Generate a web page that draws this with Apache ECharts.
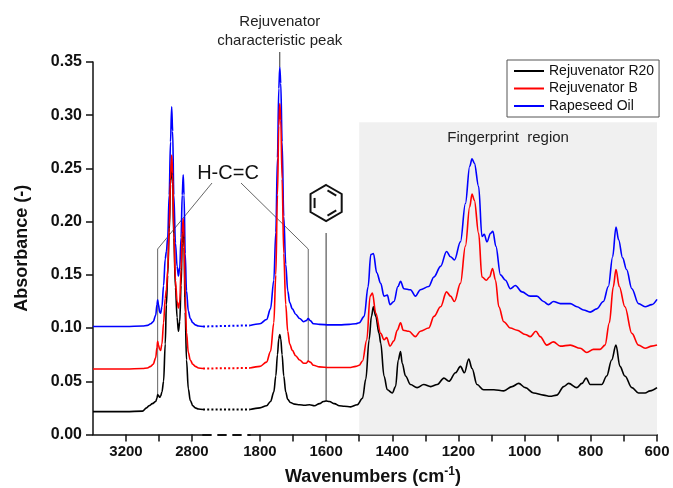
<!DOCTYPE html>
<html>
<head>
<meta charset="utf-8">
<script src="https://cdn.jsdelivr.net/npm/echarts@6/dist/echarts.min.js"></script>
<style>
    html, body { margin: 0; padding: 0; background: #fff; }
    #main { width: 673px; height: 488px; }
</style>
</head>
<body>
<div id="main"></div>
<script>
var FONT = "'Liberation Sans', Arial, sans-serif";
var seriesNames = ['Rejuvenator R20', 'Rejuvenator B', 'Rapeseed Oil'];
var colors = { r20: '#000000', rb: '#ff0000', oil: '#0000ff' };

// left part of the broken axis: 3400 .. 2733 cm-1
var oilLeft = [[3400,0.1015],[3200,0.1015],[3100,0.102],[3070,0.1025],[3050,0.104],[3035,0.106],[3020,0.112],[3012,0.122],[3008,0.1265],[3003,0.122],[2996,0.115],[2990,0.114],[2982,0.12],[2972,0.14],[2962,0.165],[2955,0.172],[2947,0.185],[2938,0.225],[2930,0.275],[2923,0.308],[2917,0.285],[2910,0.225],[2900,0.18],[2890,0.158],[2882,0.149],[2874,0.157],[2866,0.185],[2859,0.225],[2853,0.244],[2848,0.225],[2841,0.17],[2833,0.135],[2822,0.116],[2810,0.109],[2795,0.105],[2780,0.103],[2760,0.102],[2733,0.1015]];
var rbLeft = [[3400,0.0615],[3200,0.0615],[3100,0.062],[3070,0.0625],[3050,0.064],[3035,0.066],[3020,0.072],[3012,0.082],[3008,0.0875],[3003,0.084],[2996,0.08],[2990,0.079],[2982,0.085],[2972,0.105],[2962,0.128],[2955,0.136],[2947,0.155],[2938,0.195],[2930,0.24],[2923,0.2625],[2917,0.245],[2910,0.19],[2900,0.145],[2890,0.125],[2882,0.119],[2874,0.125],[2866,0.155],[2859,0.19],[2853,0.203],[2848,0.185],[2841,0.13],[2833,0.096],[2822,0.077],[2810,0.07],[2795,0.066],[2780,0.064],[2760,0.0625],[2733,0.062]];
var r20Left = [[3400,0.0215],[3200,0.0215],[3100,0.022],[3075,0.025],[3060,0.027],[3040,0.029],[3020,0.031],[3012,0.034],[3008,0.0375],[3003,0.0365],[2996,0.035],[2990,0.036],[2982,0.04],[2972,0.05],[2962,0.085],[2955,0.122],[2947,0.15],[2938,0.19],[2930,0.235],[2923,0.256],[2917,0.238],[2910,0.185],[2900,0.138],[2890,0.11],[2882,0.097],[2874,0.106],[2866,0.14],[2859,0.18],[2853,0.195],[2848,0.176],[2841,0.115],[2833,0.07],[2822,0.043],[2810,0.032],[2795,0.027],[2780,0.025],[2760,0.024],[2733,0.0235]];

// right part: 1830 .. 600 cm-1
var oilRight = [[1830,0.1025],[1800,0.104],[1780,0.108],[1768,0.118],[1758,0.145],[1752,0.19],[1747,0.26],[1743,0.325],[1740,0.345],[1737,0.33],[1733,0.275],[1728,0.205],[1722,0.16],[1716,0.135],[1710,0.124],[1702,0.118],[1692,0.113],[1680,0.109],[1668,0.106],[1660,0.107],[1654,0.109],[1648,0.107],[1638,0.104],[1620,0.1035],[1590,0.103],[1560,0.103],[1530,0.1035],[1510,0.104],[1500,0.105],[1485,0.111],[1473,0.139],[1465,0.169],[1457,0.170],[1447,0.152],[1435,0.142],[1425,0.130],[1415,0.131],[1407,0.122],[1395,0.125],[1383,0.139],[1375,0.144],[1365,0.137],[1345,0.136],[1330,0.130],[1315,0.136],[1290,0.139],[1274,0.148],[1254,0.158],[1236,0.172],[1224,0.167],[1212,0.164],[1194,0.181],[1179,0.217],[1166,0.252],[1159,0.259],[1152,0.255],[1139,0.233],[1129,0.186],[1122,0.188],[1114,0.181],[1103,0.189],[1096,0.191],[1087,0.177],[1073,0.150],[1058,0.145],[1043,0.137],[1028,0.140],[1008,0.134],[983,0.130],[963,0.130],[943,0.125],[928,0.122],[913,0.125],[892,0.123],[862,0.123],[842,0.120],[822,0.117],[802,0.115],[782,0.118],[762,0.125],[747,0.139],[734,0.167],[724,0.195],[716,0.183],[704,0.166],[692,0.155],[676,0.137],[656,0.123],[636,0.120],[616,0.122],[600,0.127]];
var rbRight = [[1830,0.0625],[1800,0.064],[1780,0.068],[1768,0.078],[1758,0.105],[1752,0.15],[1747,0.225],[1743,0.29],[1740,0.311],[1737,0.295],[1733,0.24],[1728,0.17],[1722,0.122],[1716,0.097],[1710,0.085],[1702,0.079],[1692,0.074],[1680,0.07],[1668,0.067],[1660,0.067],[1654,0.069],[1648,0.068],[1638,0.065],[1620,0.0635],[1590,0.063],[1560,0.063],[1530,0.063],[1510,0.064],[1500,0.065],[1490,0.069],[1477,0.089],[1467,0.130],[1460,0.133],[1450,0.114],[1435,0.095],[1425,0.089],[1417,0.091],[1407,0.083],[1395,0.088],[1385,0.098],[1375,0.105],[1367,0.098],[1350,0.097],[1330,0.092],[1315,0.097],[1290,0.100],[1274,0.111],[1254,0.120],[1236,0.134],[1224,0.130],[1212,0.125],[1194,0.142],[1179,0.177],[1166,0.214],[1159,0.226],[1152,0.220],[1139,0.189],[1129,0.148],[1116,0.145],[1106,0.148],[1097,0.156],[1088,0.145],[1078,0.120],[1063,0.106],[1043,0.100],[1023,0.098],[998,0.094],[983,0.092],[966,0.097],[953,0.092],[933,0.084],[913,0.087],[892,0.083],[862,0.084],[832,0.081],[812,0.077],[792,0.080],[772,0.080],[757,0.084],[744,0.105],[732,0.139],[724,0.155],[714,0.139],[697,0.120],[676,0.095],[656,0.084],[636,0.081],[616,0.083],[600,0.084]];
var r20Right = [[1830,0.0235],[1800,0.025],[1780,0.027],[1768,0.031],[1758,0.04],[1752,0.055],[1747,0.075],[1743,0.09],[1740,0.094],[1737,0.09],[1733,0.075],[1728,0.055],[1722,0.04],[1716,0.033],[1708,0.03],[1695,0.0285],[1680,0.028],[1665,0.0275],[1650,0.028],[1635,0.027],[1620,0.029],[1608,0.031],[1600,0.0315],[1590,0.031],[1575,0.029],[1560,0.027],[1545,0.0265],[1526,0.026],[1506,0.028],[1490,0.034],[1480,0.052],[1470,0.089],[1463,0.111],[1457,0.120],[1450,0.111],[1440,0.095],[1435,0.086],[1425,0.055],[1415,0.042],[1400,0.039],[1390,0.045],[1382,0.070],[1375,0.078],[1370,0.067],[1360,0.055],[1345,0.047],[1325,0.044],[1305,0.047],[1284,0.045],[1264,0.047],[1244,0.053],[1229,0.050],[1209,0.058],[1194,0.064],[1182,0.058],[1169,0.071],[1159,0.062],[1144,0.047],[1124,0.042],[1093,0.042],[1063,0.041],[1038,0.045],[1018,0.048],[998,0.044],[973,0.039],[943,0.037],[923,0.036],[903,0.037],[882,0.045],[867,0.048],[842,0.044],[827,0.048],[814,0.053],[802,0.047],[782,0.047],[767,0.047],[752,0.055],[737,0.070],[724,0.084],[712,0.064],[697,0.055],[676,0.044],[656,0.039],[636,0.039],[621,0.041],[600,0.044]];

var leftTicks = [3200, 3000, 2800];
var leftLabels = [3200, 2800];
var rightTicks = [1800, 1700, 1600, 1500, 1400, 1300, 1200, 1100, 1000, 900, 800, 700, 600];
var rightLabels = [1800, 1600, 1400, 1200, 1000, 800, 600];
var yTicks = { min: 0, max: 0.35, interval: 0.05 };
var fingerprint = { from: 1500, to: 600, top: 0.2935 };

function lineSeries(name, color, data, idx) {
    return {
        name: name,
        type: 'line',
        xAxisIndex: idx,
        yAxisIndex: idx,
        data: data,
        showSymbol: false,
        smooth: 0.35,
        smoothMonotone: 'x',
        color: color,
        lineStyle: { color: color, width: 1.6 },
        z: 3
    };
}

function gapSeries(name, color, left, right) {
    return {
        name: name,
        type: 'line',
        xAxisIndex: 1,
        yAxisIndex: 1,
        data: [[0, left[left.length - 1][1]], [1, right[0][1]]],
        showSymbol: false,
        color: color,
        lineStyle: { color: color, width: 2, type: [2, 2.2] }
    };
}

function xAxisBase(idx) {
    return {
        gridIndex: idx,
        type: 'value',
        inverse: true,
        splitLine: { show: false },
        axisLine: { onZero: false, lineStyle: { color: '#111', width: 1.5 } },
        axisTick: { inside: false, length: 7, lineStyle: { color: '#111', width: 1.5 } },
        axisLabel: {
            margin: 10, fontSize: 15, fontWeight: 'bold', color: '#111', fontFamily: FONT,
            formatter: function (v) { return String(v); }
        }
    };
}

function render() {
    var myChart = echarts.init(document.getElementById('main'), null, { renderer: 'canvas' });

    var xLeft = xAxisBase(0);
    xLeft.min = 2733;
    xLeft.max = 3400;
    xLeft.axisTick.customValues = leftTicks;
    xLeft.axisLabel.customValues = leftLabels;

    var xRight = xAxisBase(2);
    xRight.min = 600;
    xRight.max = 1830;
    xRight.axisTick.customValues = rightTicks;
    xRight.axisLabel.customValues = rightLabels;

    var xGap = {
        gridIndex: 1, type: 'value', min: 0, max: 1,
        splitLine: { show: false },
        axisLine: { onZero: false, lineStyle: { color: '#111', width: 1.8, type: [8, 7] } },
        axisTick: { show: false },
        axisLabel: { show: false }
    };

    var yAxes = [0, 1, 2].map(function (i) {
        return {
            gridIndex: i, type: 'value',
            min: yTicks.min, max: yTicks.max, interval: yTicks.interval,
            show: i === 0,
            splitLine: { show: false },
            name: i === 0 ? 'Absorbance (-)' : '',
            nameLocation: 'middle',
            nameGap: 62,
            nameTextStyle: { fontSize: 18, fontWeight: 'bold', color: '#111', fontFamily: FONT },
            axisLine: { show: true, lineStyle: { color: '#111', width: 1.5 } },
            axisTick: { inside: false, length: 7, lineStyle: { color: '#111', width: 1.5 } },
            axisLabel: {
                margin: 11, fontSize: 16, fontWeight: 'bold', color: '#111', fontFamily: FONT,
                formatter: function (v) { return v.toFixed(2); }
            }
        };
    });

    var series = [
        {
            name: 'fingerprint',
            type: 'line',
            xAxisIndex: 2, yAxisIndex: 2,
            data: [],
            markArea: {
                silent: true,
                itemStyle: { color: '#f0f0f0' },
                label: {
                    show: true, position: 'insideTop', distance: 8,
                    fontSize: 15, color: '#222', fontFamily: FONT
                },
                data: [[
                    { name: 'Fingerprint  region', xAxis: fingerprint.from, yAxis: 0 },
                    { xAxis: fingerprint.to, yAxis: fingerprint.top }
                ]]
            },
            z: 1
        },
        lineSeries(seriesNames[2], colors.oil, oilLeft, 0),
        lineSeries(seriesNames[0], colors.r20, r20Left, 0),
        lineSeries(seriesNames[1], colors.rb, rbLeft, 0),
        gapSeries(seriesNames[2], colors.oil, oilLeft, oilRight),
        gapSeries(seriesNames[0], colors.r20, r20Left, r20Right),
        gapSeries(seriesNames[1], colors.rb, rbLeft, rbRight),
        lineSeries(seriesNames[2], colors.oil, oilRight, 2),
        lineSeries(seriesNames[0], colors.r20, r20Right, 2),
        lineSeries(seriesNames[1], colors.rb, rbRight, 2)
    ];

    var option = {
        animation: false,
        backgroundColor: '#fff',
        textStyle: { fontFamily: FONT },
        grid: [
            { left: 93, top: 62, width: 110, bottom: 53.5 },
            { left: 203, top: 62, width: 47, bottom: 53.5 },
            { left: 250, top: 62, right: 16, bottom: 53.5 }
        ],
        legend: {
            data: seriesNames,
            orient: 'vertical',
            left: 507, top: 60,
            backgroundColor: '#fff',
            borderColor: '#555', borderWidth: 1,
            padding: [4, 5, 4, 7],
            itemGap: 3.5,
            itemWidth: 30, itemHeight: 2,
            icon: 'rect',
            textStyle: { fontSize: 14, color: '#111', fontFamily: FONT }
        },
        xAxis: [xLeft, xGap, xRight],
        yAxis: yAxes,
        series: series
    };

    myChart.setOption(option);

    // annotations anchored to the data scales
    function pt(idx, wn, v) {
        return myChart.convertToPixel({ xAxisIndex: idx, yAxisIndex: idx }, [wn, v]);
    }
    var peak = pt(2, 1740, 0.345);
    var cc1 = pt(0, 3008, 0.0375);
    var cc2 = pt(2, 1654, 0.069);
    var ar = pt(2, 1600, 0.0315);

    var hx = ar[0], hy = 203, hr = 18;
    var hex = [];
    for (var i = 0; i < 6; i++) {
        var a = (-90 + 60 * i) * Math.PI / 180;
        hex.push([hx + hr * Math.cos(a), hy + hr * Math.sin(a)]);
    }
    var inner = [];
    [0, 2, 4].forEach(function (k) {
        var p1 = hex[k], p2 = hex[(k + 1) % 6];
        var f = 0.74, s = 0.12;
        var q1 = [hx + (p1[0] - hx) * f, hy + (p1[1] - hy) * f];
        var q2 = [hx + (p2[0] - hx) * f, hy + (p2[1] - hy) * f];
        var d = [q2[0] - q1[0], q2[1] - q1[1]];
        inner.push({
            type: 'line', silent: true,
            shape: { x1: q1[0] + d[0] * s, y1: q1[1] + d[1] * s, x2: q2[0] - d[0] * s, y2: q2[1] - d[1] * s },
            style: { stroke: '#111', lineWidth: 2 }
        });
    });

    var graphics = [
        {
            type: 'text', silent: true, x: peak[0], y: 31,
            style: {
                text: 'Rejuvenator\ncharacteristic peak', fontSize: 15, fontFamily: FONT,
                lineHeight: 19, fill: '#222', align: 'center', verticalAlign: 'middle'
            }
        },
        {
            type: 'line', silent: true,
            shape: { x1: peak[0], y1: 52, x2: peak[0], y2: peak[1] },
            style: { stroke: '#333', lineWidth: 1 }
        },
        {
            type: 'text', silent: true, x: 228, y: 173,
            style: { text: 'H-C=C', fontSize: 20, fontFamily: FONT, fill: '#111', align: 'center', verticalAlign: 'middle' }
        },
        {
            type: 'polyline', silent: true,
            shape: { points: [[212, 183], [cc1[0], 249], [cc1[0], cc1[1]]] },
            style: { stroke: '#666', lineWidth: 1, fill: null }
        },
        {
            type: 'polyline', silent: true,
            shape: { points: [[241, 183], [cc2[0], 249], [cc2[0], cc2[1]]] },
            style: { stroke: '#666', lineWidth: 1, fill: null }
        },
        {
            type: 'polygon', silent: true,
            shape: { points: hex },
            style: { stroke: '#111', lineWidth: 2, fill: null }
        },
        {
            type: 'line', silent: true,
            shape: { x1: ar[0], y1: 233, x2: ar[0], y2: ar[1] },
            style: { stroke: '#333', lineWidth: 1 }
        },
        {
            type: 'text', silent: true, x: 373, y: 477,
            style: {
                text: 'Wavenumbers (cm{sup|-1})',
                fontSize: 18, fontWeight: 'bold', fontFamily: FONT, fill: '#111',
                align: 'center', verticalAlign: 'middle',
                rich: { sup: { fontSize: 12, fontWeight: 'bold', fontFamily: FONT, verticalAlign: 'top', lineHeight: 22 } }
            }
        }
    ].concat(inner);

    myChart.setOption({ graphic: graphics });
}

render();
</script>
</body>
</html>
